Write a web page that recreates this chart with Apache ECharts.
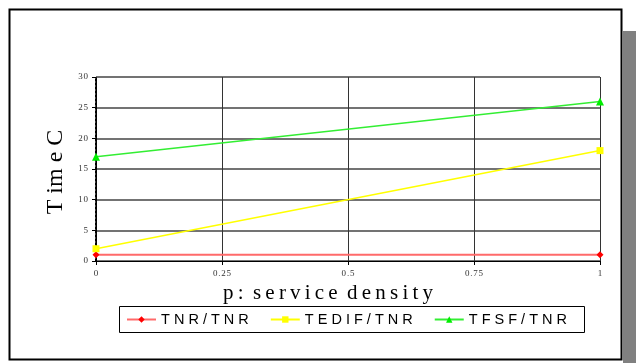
<!DOCTYPE html>
<html><head><meta charset="utf-8">
<script src="https://cdn.jsdelivr.net/npm/echarts@6/dist/echarts.min.js"></script>
<style>html,body{margin:0;padding:0;background:#fff}#c{width:642px;height:363px}</style>
</head><body><div id="c"></div>
<script>
const xValues = [0, 1];
const xTicks = ['0', '0.25', '0.5', '0.75', '1'];
const yTicks = ['0', '5', '10', '15', '20', '25', '30'];
const seriesNames = ['T N R / T N R', 'T E D I F / T N R', 'T F S F / T N R'];
const tnr = [1, 1];
const tedif = [2, 18];
const tfsf = [17, 26];

const serif = '"Liberation Serif", "Times New Roman", serif';
const sans = '"Liberation Sans", Arial, sans-serif';
const chart = echarts.init(document.getElementById('c'));
const pair = v => xValues.map((x, i) => [x, v[i]]);
const tickMap = arr => (v) => { const s = String(+v.toFixed(2)); return arr.includes(s) ? s.split('').join('\u200a') : ''; };

chart.setOption({
  animation: false,
  graphic: [
    { type: 'rect', shape: { x: 623, y: 31, width: 13, height: 332 }, style: { fill: '#808080' }, z: -1 },
    { type: 'rect', shape: { x: 9.5, y: 9.5, width: 612, height: 350 }, style: { fill: 'none', stroke: '#000', lineWidth: 2 }, z: 1 },
    { type: 'rect', shape: { x: 119.5, y: 306.5, width: 465, height: 26 }, style: { fill: 'none', stroke: '#000', lineWidth: 1 }, z: 1 }
  ],
  grid: { left: 96, right: 42, top: 77, bottom: 102 },
  legend: {
    left: 126, top: 312, itemWidth: 29, itemHeight: 8, itemGap: 21, padding: 0,
    textStyle: { fontFamily: sans, fontSize: 14.5, color: '#000' },
    data: seriesNames, z: 5
  },
  xAxis: [{
    type: 'value', min: 0, max: 1, interval: 0.25,
    name: 'p\u2009:\u2009 s\u2009e\u2009r\u2009v\u2009i\u2009c\u2009e \u2009d\u2009e\u2009n\u2009s\u2009i\u2009t\u2009y',
    nameLocation: 'middle', nameGap: 20,
    nameTextStyle: { fontFamily: serif, fontSize: 21, color: '#000', padding: [0, 40, 0, 0] },
    axisLine: { show: true, lineStyle: { color: '#000', width: 1 } },
    axisTick: { show: true, length: 4, lineStyle: { color: '#000' } },
    axisLabel: { fontFamily: serif, fontSize: 9, color: '#333', margin: 8, formatter: tickMap(xTicks) },
    splitLine: { show: true, lineStyle: { color: '#333', width: 1 } }
  }, {
    type: 'value', min: 0, max: 1, position: 'top',
    axisLine: { show: true, lineStyle: { color: '#000', type: 'dotted' } },
    axisTick: { show: false }, axisLabel: { show: false }, splitLine: { show: false }
  }],
  yAxis: [{
    type: 'value', min: 0, max: 30, interval: 5,
    name: 'T im e C', nameLocation: 'middle', nameGap: 28,
    nameTextStyle: { fontFamily: serif, fontSize: 24, color: '#000', padding: [0, 6, 0, 0] },
    axisLine: { show: true, lineStyle: { color: '#000', type: 'dotted' } },
    axisTick: { show: true, length: 4, lineStyle: { color: '#000' } },
    axisLabel: { fontFamily: serif, fontSize: 9, color: '#333', margin: 8, formatter: tickMap(yTicks) },
    splitLine: { show: true, lineStyle: { color: '#444', width: 1.5 } }
  }, {
    type: 'value', min: 0, max: 30, position: 'right',
    axisLine: { show: true, lineStyle: { color: '#000', type: 'dotted', width: 2 } },
    axisTick: { show: false }, axisLabel: { show: false }, splitLine: { show: false }
  }],
  series: [
    { name: seriesNames[0], type: 'line', data: pair(tnr), symbol: 'diamond', symbolSize: 7,
      itemStyle: { color: '#ff0000' }, lineStyle: { color: '#ff6a6a', width: 2 }, z: 4 },
    { name: seriesNames[1], type: 'line', data: pair(tedif), symbol: 'rect', symbolSize: 7,
      itemStyle: { color: '#ffff00' }, lineStyle: { color: '#ffff00', width: 1.5 }, z: 4 },
    { name: seriesNames[2], type: 'line', data: pair(tfsf), symbol: 'triangle', symbolSize: 8,
      itemStyle: { color: '#00ee00' }, lineStyle: { color: '#33ee33', width: 1.5 }, z: 4 }
  ]
});
</script></body></html>
